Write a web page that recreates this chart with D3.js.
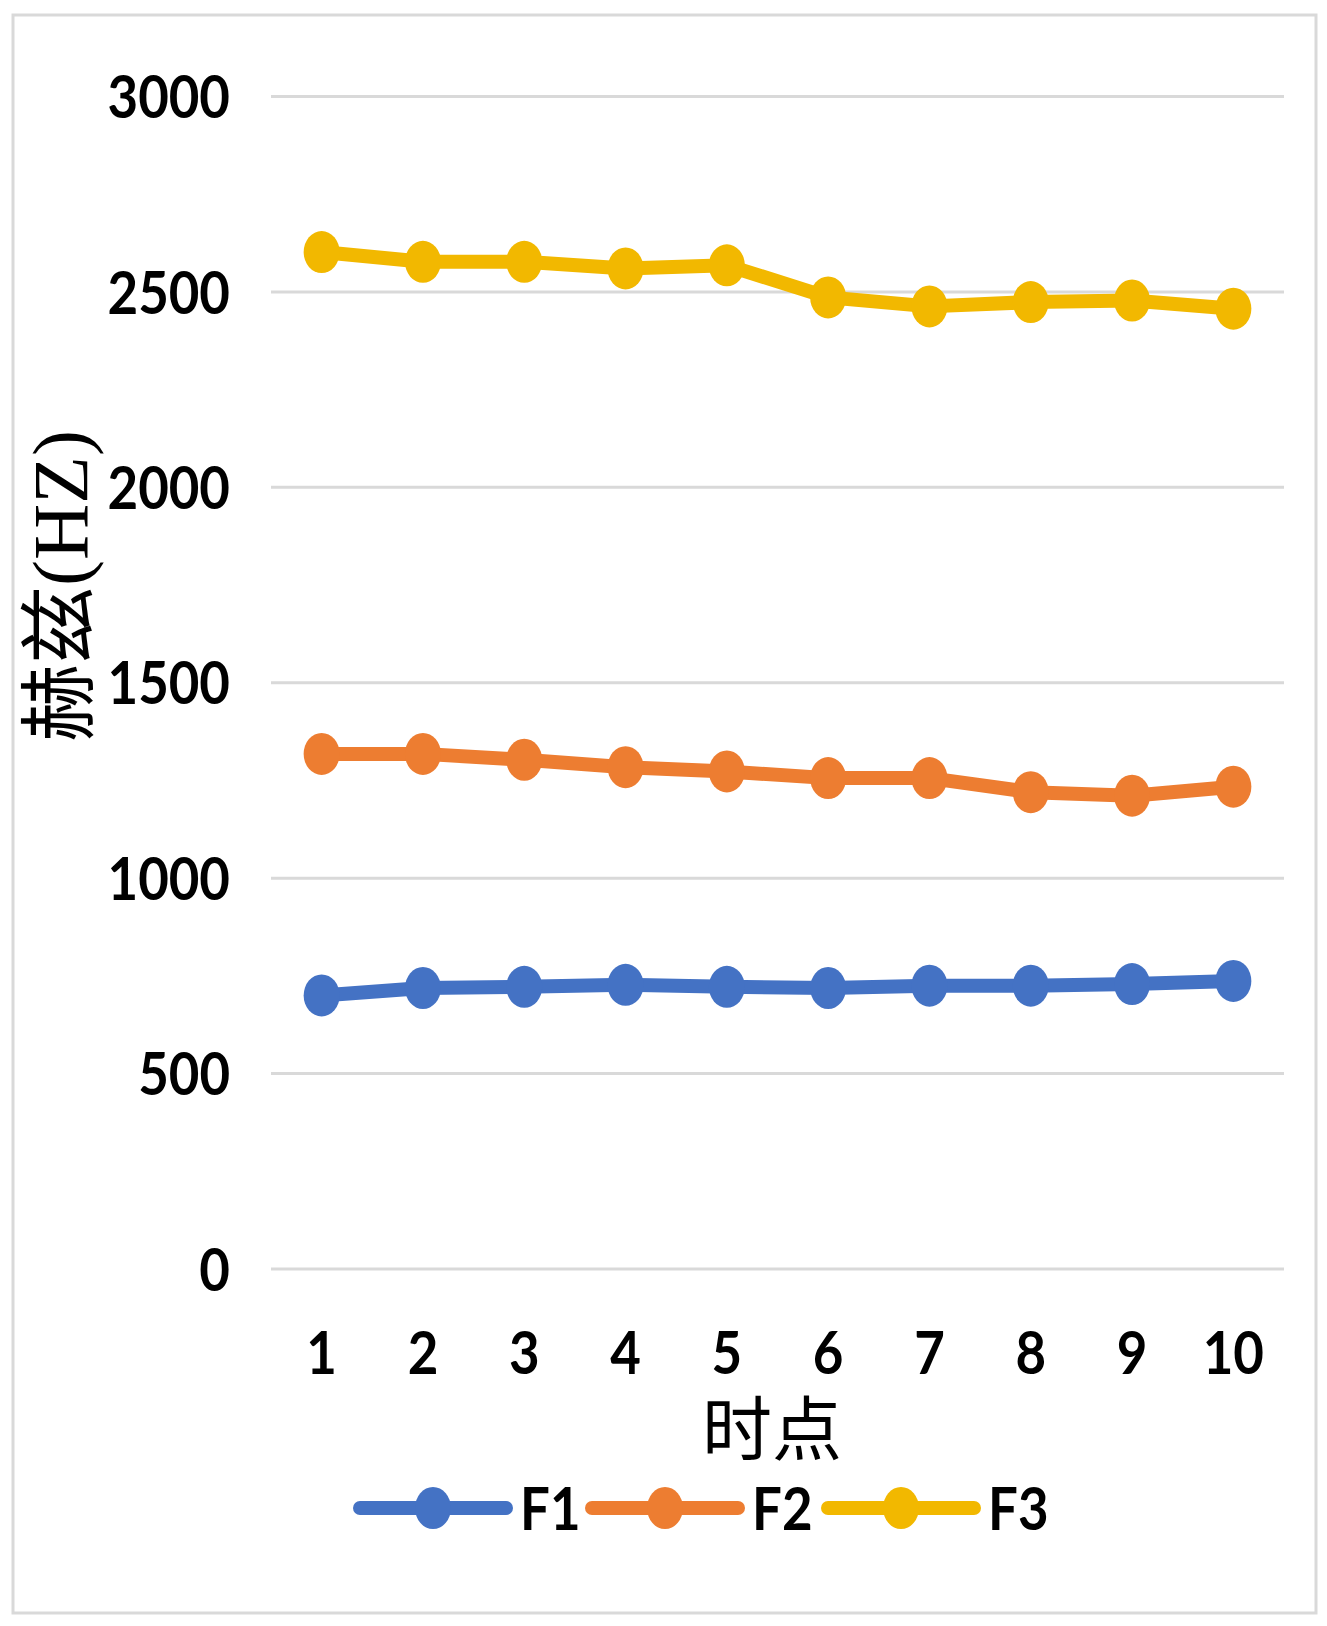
<!DOCTYPE html>
<html>
<head>
<meta charset="utf-8">
<script src="https://cdn.jsdelivr.net/npm/d3@7"></script>
<style>
  html, body { margin: 0; padding: 0; background: #fff; }
  svg { display: block; }
</style>
</head>
<body>
<div id="chart"></div>
<script>
// time points (x categories)
const timePoints = ["1", "2", "3", "4", "5", "6", "7", "8", "9", "10"];
// formant values in Hz
const f1Values = [700, 719, 722, 727, 722, 719, 725, 725, 729, 737];
const f2Values = [1318, 1318, 1303, 1284, 1273, 1256, 1256, 1220, 1211, 1234];
const f3Values = [2602, 2577, 2577, 2560, 2568, 2486, 2463, 2474, 2478, 2457];
const seriesNames = ["F1", "F2", "F3"];
const seriesColors = ["#4472C4", "#ED7D31", "#F2B800"];
const yTicks = [0, 500, 1000, 1500, 2000, 2500, 3000];

const W = 1327, H = 1626;
const SX = 0.88; // the picture is squeezed a bit horizontally
const latin = "Lato, 'Open Sans', sans-serif";

const svg = d3.select("#chart").append("svg")
  .attr("width", W).attr("height", H);

// outer frame
svg.append("rect")
  .attr("x", 13).attr("y", 15).attr("width", 1303).attr("height", 1598)
  .attr("fill", "#fff").attr("stroke", "#d9d9d9").attr("stroke-width", 3);

const x = d3.scaleBand().domain(timePoints).range([271, 1284]);
const y = d3.scaleLinear().domain([0, 3000]).range([1269, 96.5]);
const cx = d => x(d) + x.bandwidth() / 2;

// gridlines
svg.append("g").selectAll("line").data(yTicks).join("line")
  .attr("x1", 271).attr("x2", 1284)
  .attr("y1", d => y(d)).attr("y2", d => y(d))
  .attr("stroke", "#d9d9d9").attr("stroke-width", 3);

// y tick labels
svg.append("g").selectAll("text").data(yTicks).join("text")
  .attr("transform", d => `translate(230,${y(d)}) scale(${SX},1)`)
  .attr("text-anchor", "end").attr("dy", "0.36em")
  .attr("font-family", latin).attr("font-weight", 700).attr("font-size", 60)
  .attr("fill", "#000").text(d => d);

// x tick labels
svg.append("g").selectAll("text").data(timePoints).join("text")
  .attr("transform", d => `translate(${cx(d)},1352) scale(${SX},1)`)
  .attr("text-anchor", "middle").attr("dy", "0.36em")
  .attr("font-family", latin).attr("font-weight", 700).attr("font-size", 60)
  .attr("fill", "#000").text(d => d);

// axis titles
svg.append("text")
  .attr("transform", "translate(60,586) rotate(-90)")
  .attr("text-anchor", "middle").attr("dominant-baseline", "central")
  .attr("font-family", "'Liberation Serif', 'Noto Sans CJK SC', serif")
  .attr("font-size", 78).attr("fill", "#000")
  .text("赫兹(HZ)");

svg.append("text")
  .attr("x", 772).attr("y", 1455)
  .attr("text-anchor", "middle")
  .attr("font-family", "'Noto Sans CJK SC', sans-serif")
  .attr("font-size", 70).attr("fill", "#000")
  .text("时点");

// series
const allSeries = [f1Values, f2Values, f3Values];
const line = d3.line()
  .x((d, i) => cx(timePoints[i]))
  .y(d => y(d));

allSeries.forEach((vals, k) => {
  const g = svg.append("g");
  g.append("path").datum(vals)
    .attr("d", line)
    .attr("fill", "none").attr("stroke", seriesColors[k])
    .attr("stroke-width", 14).attr("stroke-linejoin", "round").attr("stroke-linecap", "round");
  g.selectAll("ellipse").data(vals).join("ellipse")
    .attr("cx", (d, i) => cx(timePoints[i]))
    .attr("cy", d => y(d))
    .attr("rx", 18).attr("ry", 21)
    .attr("fill", seriesColors[k]);
});

// legend
const legendX = [360, 592, 828];
const legend = svg.append("g").selectAll("g").data(seriesNames).join("g")
  .attr("transform", (d, i) => `translate(${legendX[i]},1508)`);
legend.append("line")
  .attr("x1", 0).attr("x2", 146).attr("y1", 0).attr("y2", 0)
  .attr("stroke", (d, i) => seriesColors[i]).attr("stroke-width", 14)
  .attr("stroke-linecap", "round");
legend.append("ellipse")
  .attr("cx", 73).attr("cy", 0).attr("rx", 18).attr("ry", 21)
  .attr("fill", (d, i) => seriesColors[i]);
legend.append("text")
  .attr("transform", `translate(160,0) scale(${SX},1)`)
  .attr("dy", "0.36em")
  .attr("font-family", latin).attr("font-weight", 700).attr("font-size", 60)
  .attr("fill", "#000").text(d => d);
</script>
</body>
</html>
